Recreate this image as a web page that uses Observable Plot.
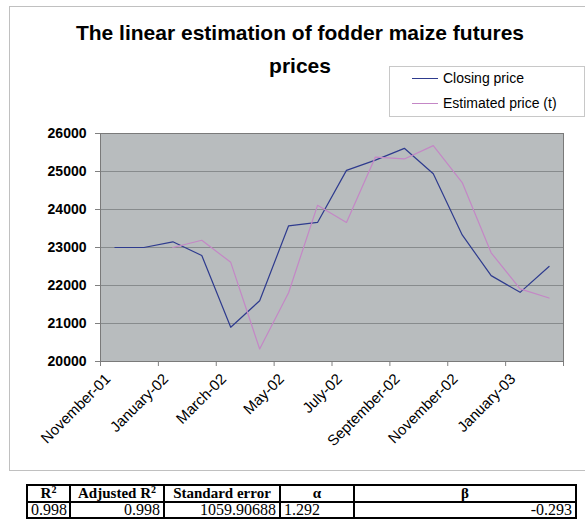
<!DOCTYPE html>
<html>
<head>
<meta charset="utf-8">
<script src="https://cdn.jsdelivr.net/npm/d3@7"></script>
<script src="https://cdn.jsdelivr.net/npm/@observablehq/plot@0.6"></script>
<style>
  html, body { margin: 0; padding: 0; background: #fff; }
  body { width: 585px; height: 525px; position: relative; overflow: hidden; font-family: Arial, "Liberation Sans", sans-serif; }
  #frame { position: absolute; left: 9px; top: 6px; width: 600px; height: 465px; border: 1px solid #c0c0c0; box-sizing: border-box; }
  .tline { position: absolute; left: 0; width: 600px; text-align: center; font-weight: bold; font-size: 21px; line-height: 21px; color: #000; white-space: nowrap; }
  #legend { position: absolute; left: 389px; top: 66px; width: 196px; height: 51px; border: 1px solid #c8c8c8; box-sizing: border-box; background: #fff; font-size: 14px; }
  .item { position: absolute; left: 22px; height: 16px; line-height: 16px; display: flex; align-items: center; white-space: nowrap; }
  .swatch { width: 26px; height: 0; border-top: 1px solid; margin-right: 5px; }
  #chart { position: absolute; left: 0; top: 120px; }
  #stats { position: absolute; left: 26px; top: 484px; width: 549px; table-layout: fixed; border-collapse: collapse; font-family: "Liberation Serif", "Times New Roman", serif; }
  #stats td, #stats th { border: 2px solid #000; padding: 0 3px; overflow: visible; white-space: nowrap; }
  #stats th { font-weight: bold; text-align: center; font-size: 15px; height: 15px; line-height: 15px; }
  #stats td { font-size: 16px; height: 14px; line-height: 14px; }
  #stats sup { font-size: 10px; line-height: 0; vertical-align: 5px; }
</style>
</head>
<body>
<div id="frame"></div>
<div id="title"></div>
<div id="chart"></div>
<div id="legend"></div>
<table id="stats"></table>
<script>
const titleLines = ["The linear estimation of fodder maize futures", "prices"];
const months = ["November-01","December-01","January-02","February-02","March-02","April-02","May-02","June-02","July-02","August-02","September-02","October-02","November-02","December-02","January-03","February-03"];
const closingPrice = [23000,23000,23150,22790,20900,21600,23570,23660,25030,25300,25610,24940,23330,22260,21820,22500];
const estimatedPrice = [null,null,23000,23190,22610,20330,21810,24110,23660,25380,25330,25680,24710,22860,21910,21670];
const seriesNames = ["Closing price","Estimated price (t)"];
const seriesColors = ["#2e3b8e","#c487c6"];
const yTicks = [20000,21000,22000,23000,24000,25000,26000];
const statHeaders = ["R<sup>2</sup>","Adjusted R<sup>2</sup>","Standard error","α","β"];
const statValues = ["0.998","0.998","1059.90688","1.292","-0.293"];
const statAlign = ["left","right","right","left","right"];
const statWidths = [43,94,116,74,222];

const titleEl = document.getElementById("title");
titleLines.forEach((t, k) => {
  const d = document.createElement("div");
  d.className = "tline";
  d.style.top = (22 + k * 33) + "px";
  d.textContent = t;
  titleEl.appendChild(d);
});

const rows = [];
months.forEach((m, i) => {
  rows.push({i, month: m, value: closingPrice[i], series: seriesNames[0]});
  if (estimatedPrice[i] != null) rows.push({i, month: m, value: estimatedPrice[i], series: seriesNames[1]});
});

const boundaryTicks = d3.range(-0.5, months.length, 2);
const labelTicks = d3.range(0, months.length, 2);

const chart = Plot.plot({
  width: 585,
  height: 340,
  marginLeft: 100,
  marginRight: 22,
  marginTop: 13,
  marginBottom: 99,
  style: { background: "transparent", fontFamily: "Arial, 'Liberation Sans', sans-serif", overflow: "visible", color: "#000" },
  x: { type: "linear", domain: [-0.5, months.length - 0.5] },
  y: { domain: [yTicks[0], yTicks[yTicks.length - 1]] },
  color: { domain: seriesNames, range: seriesColors },
  marks: [
    Plot.frame({ fill: "#b8bcbe" }),
    Plot.gridY(yTicks, { stroke: "#878b8d", strokeOpacity: 1, strokeWidth: 1 }),
    Plot.axisY(yTicks, { tickSize: 5, tickPadding: 9, fontWeight: "bold", fontSize: 14, stroke: "#808080", tickFormat: d => String(d), label: null }),
    Plot.axisX(boundaryTicks, { tickSize: 5, tickFormat: () => "", stroke: "#808080", label: null }),
    Plot.axisX(labelTicks, { tickSize: 0, tickPadding: 15, dx: -7, tickRotate: -45, tickFormat: i => months[i], fontSize: 15, label: null }),
    Plot.line(rows, { x: "i", y: "value", stroke: "series", z: "series", strokeWidth: 1.2 }),
    Plot.frame({ stroke: "#7a7a7a", strokeWidth: 1 })
  ]
});
document.getElementById("chart").appendChild(chart);

const legend = document.getElementById("legend");
seriesNames.forEach((name, k) => {
  const item = document.createElement("div");
  item.className = "item";
  item.style.top = (3 + k * 25) + "px";
  item.innerHTML = `<span class="swatch" style="border-color:${seriesColors[k]}"></span><span>${name}</span>`;
  legend.appendChild(item);
});

const table = document.getElementById("stats");
const cg = document.createElement("colgroup");
statWidths.forEach(w => { const c = document.createElement("col"); c.style.width = w + "px"; cg.appendChild(c); });
table.appendChild(cg);
const hr = document.createElement("tr");
statHeaders.forEach((h) => {
  const th = document.createElement("th");
  th.innerHTML = h;
  hr.appendChild(th);
});
table.appendChild(hr);
const vr = document.createElement("tr");
statValues.forEach((v, k) => {
  const td = document.createElement("td");
  td.textContent = v;
  td.style.textAlign = statAlign[k];
  vr.appendChild(td);
});
table.appendChild(vr);
</script>
</body>
</html>
